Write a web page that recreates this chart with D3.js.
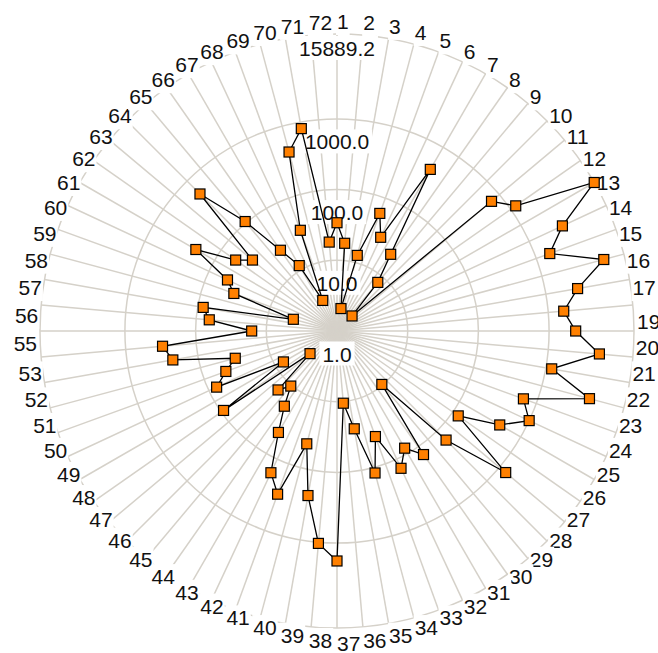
<!DOCTYPE html>
<html>
<head>
<meta charset="utf-8">
<script src="https://cdn.jsdelivr.net/npm/d3@7"></script>
<style>
  body { margin: 0; background: #fff; }
  svg text { font-family: "Liberation Sans", Arial, sans-serif; font-size: 21px; fill: #111; }
</style>
</head>
<body>
<div id="chart"></div>
<script>
// axis labels, one per spoke
var axisLabels = ['1','2','3','4','5','6','7','8','9','10','11','12','13','14','15','16','17','18',
                  '19','20','21','22','23','24','25','26','27','28','29','30','31','32','33','34','35','36',
                  '37','38','39','40','41','42','43','44','45','46','47','48','49','50','51','52','53','54',
                  '55','56','57','58','59','60','61','62','63','64','65','66','67','68','69','70','71','72'];

// series values (log radial axis)
var values = [34, 17.6, 2.1, 12.8, 58.9, 29, 436, 21.1, 7.9, 2.0, 713, 1220, 15889.2, 3296, 1595, 8070,
              2856, 1657, 2378, 5320, 1213, 4980, 640, 998, 455, 124, 1303, 152, 9.7, 136, 82, 139,
              38.8, 120, 25.4, 10.6, 1791, 1037, 231, 44.9, 286, 163, 45.4, 19.9, 10.4, 15.1, 3.15, 91,
              7.5, 75.6, 47.1, 30.9, 228, 300, 16.1, 65.1, 83.6, 4.36, 35.7, 51.2, 202, 56.2, 36.4, 551,
              105, 24.8, 11.7, 3.0, 32.8, 418, 807, 18.3];

// radial rings and their labels
var ringValues = [1, 10, 100, 1000, 15889.2];
var ringLabels = ['1.0', '10.0', '100.0', '1000.0', '15889.2'];

draw_radar();
function draw_radar(){
    var width = 658, height = 653;
    var cx = 337, cy = 331, R = 297, labelR = 300;
    var boxH = 22, gridColor = '#d5d1c9';

    var svg = d3.select('#chart')
      .append('svg')
      .attr('width', width)
      .attr('height', height);

    var r = d3.scaleLog()
              .domain([ringValues[0], ringValues[ringValues.length - 1]])
              .range([0, R]);
    var angle = d3.scaleLinear()
              .domain([0, axisLabels.length])
              .range([0, 2 * Math.PI]);

    var g = svg.append('g').attr('transform', 'translate(' + cx + ',' + cy + ')');

    // spokes
    g.selectAll('line.spoke')
      .data(axisLabels)
      .enter()
      .append('line')
      .attr('class', 'spoke')
      .attr('x1', 0).attr('y1', 0)
      .attr('x2', function(d, i){ return R * Math.sin(angle(i)); })
      .attr('y2', function(d, i){ return -R * Math.cos(angle(i)); })
      .attr('stroke', gridColor)
      .attr('stroke-width', 1.5);

    // rings
    g.selectAll('circle.ring')
      .data(ringValues.slice(1))
      .enter()
      .append('circle')
      .attr('class', 'ring')
      .attr('r', function(d){ return r(d); })
      .attr('fill', 'none')
      .attr('stroke', gridColor)
      .attr('stroke-width', 1.5);

    // axis labels: measure and place boxes first
    var labels = g.selectAll('g.axis_label')
      .data(axisLabels)
      .enter()
      .append('g')
      .attr('class', 'axis_label');
    var boxes = [];
    labels.each(function(d, i){
        var sel = d3.select(this);
        var a = angle(i);
        var px = labelR * Math.sin(a), py = -labelR * Math.cos(a);
        var rect = sel.append('rect').attr('fill', '#fff');
        var txt = sel.append('text').text(d);
        var w = txt.node().getComputedTextLength();
        var upper = (i < 18 || i >= 54);
        var top = upper ? py - boxH * Math.cos(a) : py - boxH * Math.abs(Math.sin(a));
        var left = px - w * Math.max(0, -Math.sin(a));
        txt.attr('x', left).attr('y', top + boxH - 2);
        rect.attr('x', left - 1).attr('y', top).attr('width', w + 2).attr('height', boxH + 4);
        boxes.push({x: left, y: top, w: w, h: boxH});
    });
    // a label that is mostly covered by the next one is dropped
    labels.each(function(d, i){
        var a = boxes[i], b = boxes[(i + 1) % boxes.length];
        var ox = Math.min(a.x + a.w, b.x + b.w) - Math.max(a.x, b.x);
        var oy = Math.min(a.y + a.h, b.y + b.h) - Math.max(a.y, b.y);
        if (ox > 0 && oy > 0 && ox * oy > 0.3 * a.w * a.h){
            d3.select(this).remove();
        }
    });

    // ring value labels
    var rl = g.selectAll('g.ring_label')
      .data(ringValues)
      .enter()
      .append('g')
      .attr('class', 'ring_label');
    rl.each(function(d, i){
        var sel = d3.select(this);
        var rect = sel.append('rect').attr('fill', '#fff');
        var txt = sel.append('text').text(ringLabels[i]).attr('text-anchor', 'middle');
        var w = txt.node().getComputedTextLength();
        var off = (i == ringValues.length - 1) ? 6 : 14.5;
        var glyphTop = -r(d) + off;
        txt.attr('x', 0).attr('y', glyphTop + 16);
        rect.attr('x', -w / 2 - 3).attr('y', glyphTop - 4).attr('width', w + 6).attr('height', 24);
    });

    // data line
    var line = d3.lineRadial()
                 .angle(function(d, i){ return angle(i); })
                 .radius(function(d){ return r(d); })
                 .curve(d3.curveLinearClosed);
    g.append('path')
      .datum(values)
      .attr('d', line)
      .attr('fill', 'none')
      .attr('stroke', '#000')
      .attr('stroke-width', 1.3);

    // markers
    g.selectAll('rect.marker')
      .data(values)
      .enter()
      .append('rect')
      .attr('class', 'marker')
      .attr('x', function(d, i){ return r(d) * Math.sin(angle(i)) - 5; })
      .attr('y', function(d, i){ return -r(d) * Math.cos(angle(i)) - 5; })
      .attr('width', 10)
      .attr('height', 10)
      .attr('fill', '#ff8000')
      .attr('stroke', '#000')
      .attr('stroke-width', 1.2);
}
</script>
</body>
</html>
